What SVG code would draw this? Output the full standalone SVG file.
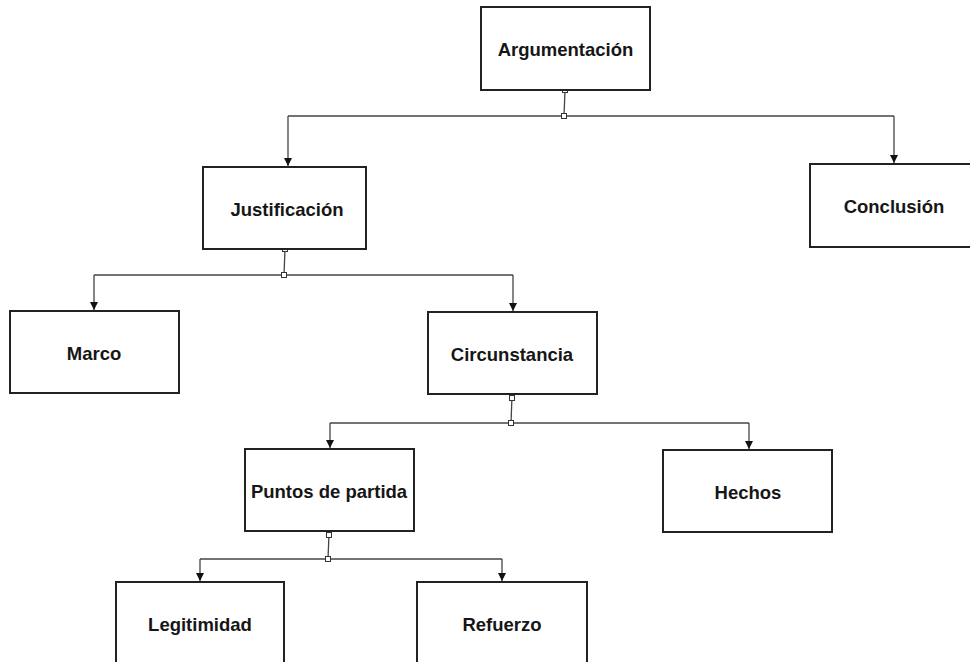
<svg xmlns="http://www.w3.org/2000/svg" width="970" height="662" viewBox="0 0 970 662">
<style>
.box{fill:#fff;stroke:#222;stroke-width:2}
.lbl{font-family:"Liberation Sans",Arial,sans-serif;font-weight:bold;font-size:18.5px;fill:#161616;text-anchor:middle;dominant-baseline:central}
.ln{fill:none;stroke:#444;stroke-width:1.3}
.hd{fill:#fff;stroke:#333;stroke-width:1}
</style>
<defs>
<marker id="arr" viewBox="0 0 10 10" refX="10" refY="5" markerWidth="8" markerHeight="8" markerUnits="userSpaceOnUse" orient="auto">
<path d="M0,0 L10,5 L0,10 z" fill="#111"/>
</marker>
</defs>
<rect width="970" height="662" fill="#fff"/>
<g id="connectors">
<path class="ln" d="M565,90 L564,116"/>
<path class="ln" d="M288,116 H894"/>
<path class="ln" d="M288,116 V166" marker-end="url(#arr)"/>
<path class="ln" d="M894,116 V163" marker-end="url(#arr)"/>
<path class="ln" d="M285,249 L284,275"/>
<path class="ln" d="M94,275 H513"/>
<path class="ln" d="M94,275 V310" marker-end="url(#arr)"/>
<path class="ln" d="M513,275 V311" marker-end="url(#arr)"/>
<path class="ln" d="M512,396 L511,423"/>
<path class="ln" d="M330,423 H749"/>
<path class="ln" d="M330,423 V448" marker-end="url(#arr)"/>
<path class="ln" d="M749,423 V449" marker-end="url(#arr)"/>
<path class="ln" d="M329,534 L328,559"/>
<path class="ln" d="M200,559 H502"/>
<path class="ln" d="M200,559 V581" marker-end="url(#arr)"/>
<path class="ln" d="M502,559 V581" marker-end="url(#arr)"/>
<rect class="hd" x="562.5" y="87.5" width="5" height="5"/>
<rect class="hd" x="561.5" y="113.5" width="5" height="5"/>
<rect class="hd" x="282.5" y="246.5" width="5" height="5"/>
<rect class="hd" x="281.5" y="272.5" width="5" height="5"/>
<rect class="hd" x="509.5" y="395.5" width="5" height="5"/>
<rect class="hd" x="508.5" y="420.5" width="5" height="5"/>
<rect class="hd" x="326.5" y="532.5" width="5" height="5"/>
<rect class="hd" x="325.5" y="556.5" width="5" height="5"/>
</g>
<g id="argumentacion"><rect class="box" x="481" y="7" width="169" height="83"/><text class="lbl" x="565.5" y="49">Argumentación</text></g>
<g id="justificacion"><rect class="box" x="203" y="167" width="163" height="82"/><text class="lbl" x="287" y="209">Justificación</text></g>
<g id="conclusion"><rect class="box" x="810" y="164" width="175" height="83"/><text class="lbl" x="894" y="206">Conclusión</text></g>
<g id="marco"><rect class="box" x="10" y="311" width="169" height="82"/><text class="lbl" x="94" y="353">Marco</text></g>
<g id="circunstancia"><rect class="box" x="428" y="312" width="169" height="82"/><text class="lbl" x="512" y="354">Circunstancia</text></g>
<g id="puntos"><rect class="box" x="245" y="449" width="169" height="82"/><text class="lbl" x="329" y="491">Puntos de partida</text></g>
<g id="hechos"><rect class="box" x="663" y="450" width="169" height="82"/><text class="lbl" x="748" y="492">Hechos</text></g>
<g id="legitimidad"><rect class="box" x="116" y="582" width="168" height="90"/><text class="lbl" x="200" y="624">Legitimidad</text></g>
<g id="refuerzo"><rect class="box" x="417" y="582" width="170" height="90"/><text class="lbl" x="502" y="624">Refuerzo</text></g>
</svg>
